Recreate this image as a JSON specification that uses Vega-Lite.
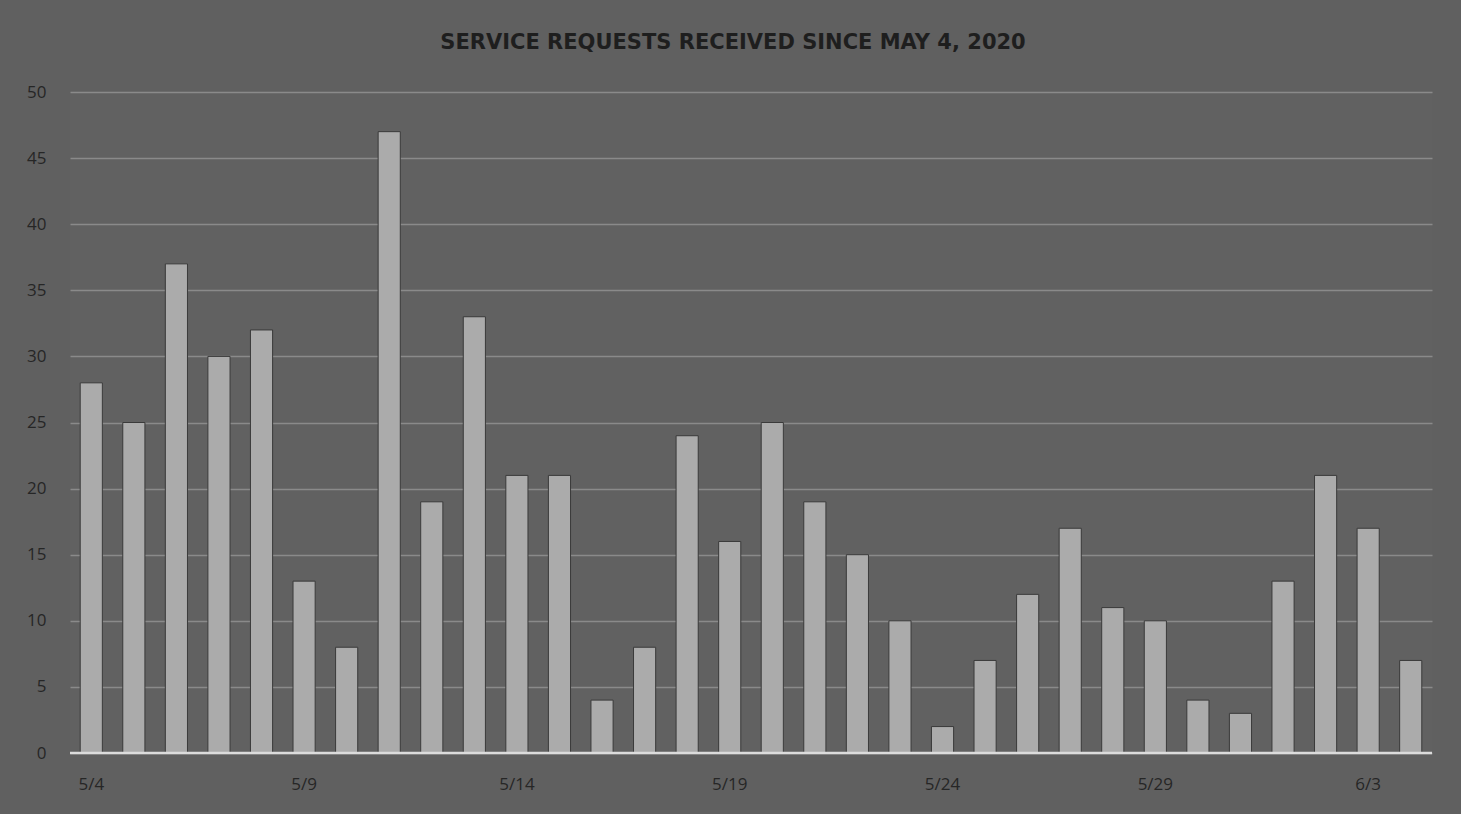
{
  "$schema": "https://vega.github.io/schema/vega-lite/v6.json",
  "autosize": {"type": "none"},
  "width": 1362,
  "height": 661,
  "padding": {"left": 70, "top": 92, "right": 29, "bottom": 61},
  "background": "#606060",
  "title": {
    "text": "SERVICE REQUESTS RECEIVED SINCE MAY 4, 2020",
    "font": "DejaVu Sans",
    "fontSize": 21,
    "fontWeight": "bold",
    "color": "#1e1e1e",
    "anchor": "middle",
    "offset": 30,
    "dx": -18
  },
  "data": {
    "values": [
      {"date": "5/4", "requests": 28},
      {"date": "5/5", "requests": 25},
      {"date": "5/6", "requests": 37},
      {"date": "5/7", "requests": 30},
      {"date": "5/8", "requests": 32},
      {"date": "5/9", "requests": 13},
      {"date": "5/10", "requests": 8},
      {"date": "5/11", "requests": 47},
      {"date": "5/12", "requests": 19},
      {"date": "5/13", "requests": 33},
      {"date": "5/14", "requests": 21},
      {"date": "5/15", "requests": 21},
      {"date": "5/16", "requests": 4},
      {"date": "5/17", "requests": 8},
      {"date": "5/18", "requests": 24},
      {"date": "5/19", "requests": 16},
      {"date": "5/20", "requests": 25},
      {"date": "5/21", "requests": 19},
      {"date": "5/22", "requests": 15},
      {"date": "5/23", "requests": 10},
      {"date": "5/24", "requests": 2},
      {"date": "5/25", "requests": 7},
      {"date": "5/26", "requests": 12},
      {"date": "5/27", "requests": 17},
      {"date": "5/28", "requests": 11},
      {"date": "5/29", "requests": 10},
      {"date": "5/30", "requests": 4},
      {"date": "5/31", "requests": 3},
      {"date": "6/1", "requests": 13},
      {"date": "6/2", "requests": 21},
      {"date": "6/3", "requests": 17},
      {"date": "6/4", "requests": 7}
    ]
  },
  "config": {
    "view": {"stroke": null, "fill": "#616161"},
    "axis": {"labelFont": "Open Sans", "labelFontSize": 17, "labelColor": "#262626", "title": null}
  },
  "layer": [
    {
      "mark": {"type": "bar", "color": "#ababab", "stroke": "#3a3a3a", "strokeWidth": 1},
      "encoding": {
        "x": {
          "field": "date",
          "type": "nominal",
          "sort": null,
          "scale": {"paddingInner": 0.48, "paddingOuter": 0.24},
          "axis": {
            "values": ["5/4", "5/9", "5/14", "5/19", "5/24", "5/29", "6/3"],
            "labelAngle": 0,
            "ticks": false,
            "domain": false,
            "labelPadding": 23
          }
        },
        "y": {
          "field": "requests",
          "type": "quantitative",
          "scale": {"domain": [0, 50]},
          "axis": {
            "values": [0, 5, 10, 15, 20, 25, 30, 35, 40, 45, 50],
            "ticks": false,
            "domain": false,
            "labelPadding": 24,
            "gridColor": "#8a8a8a",
            "gridWidth": 1.5
          }
        }
      }
    },
    {
      "mark": {"type": "rule", "color": "#dcdcdc", "strokeWidth": 2.5},
      "data": {"values": [{"y": 0}]},
      "encoding": {"y": {"field": "y", "type": "quantitative"}}
    }
  ]
}
